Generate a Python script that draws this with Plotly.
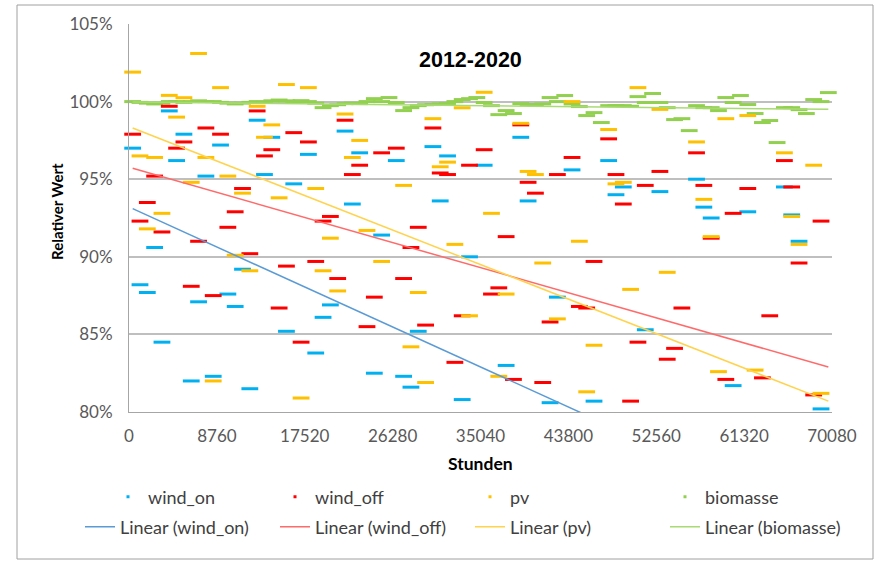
import plotly.graph_objects as go

HOURS_PER_MONTH = 730

# ---- data (month index 0..95 within 2012-2019 -> Stunden), values in % ----
on_month = [0, 5, 7, 6, 12, 10, 17, 19, 18, 22, 3, 1, 2, 9, 13, 14, 15, 21, 4, 8, 11, 16,
            24, 29, 31, 36, 41, 43, 48, 30, 42, 34, 46, 27, 26, 39, 25, 33, 37, 38, 45,
            53, 54, 60, 65, 66, 67, 72, 58, 70, 51, 57, 63,
            77, 78, 79, 84, 89, 90, 91, 82, 94]
on_value = [97.0, 99.4, 97.9, 96.2, 97.2, 95.2, 98.8, 97.7, 95.3, 94.7, 90.6, 88.2, 87.7, 87.1, 87.6, 86.8, 89.2, 85.2, 84.5, 82.0, 82.3, 81.5,
            96.6, 98.1, 96.7, 96.2, 97.1, 96.5, 95.9, 93.4, 93.6, 91.4, 90.0, 86.9, 86.1, 85.2, 83.8, 82.5, 82.3, 81.6, 80.8,
            97.7, 93.6, 95.6, 96.2, 94.0, 94.5, 94.2, 87.4, 85.3, 83.0, 80.6, 80.7,
            95.0, 93.2, 92.5, 92.9, 94.5, 92.7, 91.0, 81.7, 80.2]

off_month = [0, 5, 6, 7, 10, 12, 17, 19, 18, 22, 3, 15, 2, 14, 1, 4, 9, 13, 16, 21, 8, 11, 20, 23,
             24, 29, 31, 30, 34, 36, 41, 42, 43, 46, 48, 27, 26, 39, 38, 25, 28, 37, 33, 32, 40, 45, 44, 49,
             53, 54, 55, 58, 60, 65, 66, 67, 70, 72, 51, 63, 50, 61, 62, 57, 69, 74, 73, 52, 56, 68, 75,
             77, 78, 84, 89, 90, 82, 94, 79, 91, 87, 81, 86, 93]
off_value = [97.9, 99.7, 97.0, 97.4, 98.3, 97.9, 99.4, 96.9, 96.5, 98.0, 95.2, 94.4, 93.5, 92.9, 92.3, 91.6, 91.0, 91.9, 90.2, 89.4, 88.1, 87.5, 86.7, 84.5,
             97.4, 98.8, 95.9, 95.3, 96.7, 97.0, 98.3, 95.4, 95.3, 95.9, 96.9, 92.6, 92.3, 91.9, 90.6, 89.7, 88.6, 88.6, 87.4, 85.5, 85.6, 86.2, 83.2, 87.6,
             98.5, 94.8, 94.1, 95.3, 96.4, 97.6, 95.3, 93.4, 94.6, 95.5, 91.3, 89.7, 88.0, 86.8, 86.7, 85.8, 84.5, 84.1, 83.4, 82.1, 81.9, 80.7, 86.7,
             96.7, 94.6, 94.4, 96.2, 94.5, 92.8, 92.3, 91.2, 89.6, 86.2, 82.1, 82.2, 81.1]

pv_month = [0, 9, 5, 7, 12, 6, 1, 3, 10, 13, 8, 17, 19, 18, 21, 15, 20, 4, 2, 14, 16, 11, 23,
            24, 29, 31, 30, 41, 43, 42, 48, 45, 25, 37, 49, 32, 27, 44, 34, 26, 28, 39, 46, 38, 40,
            53, 54, 55, 60, 65, 66, 67, 69, 72, 61, 56, 73, 68, 51, 58, 63, 50, 62,
            77, 81, 84, 89, 93, 78, 90, 79, 91, 80, 85, 94]
pv_value = [101.9, 103.1, 100.4, 100.25, 100.9, 99.0, 96.5, 96.4, 96.4, 95.2, 94.8, 99.7, 98.5, 97.7, 101.1, 94.1, 93.8, 92.8, 91.8, 90.1, 89.1, 82.0, 80.9,
            100.9, 99.2, 97.5, 96.4, 98.9, 96.1, 95.8, 100.6, 99.6, 94.4, 94.6, 92.8, 91.7, 91.2, 90.8, 89.7, 89.1, 87.8, 87.7, 86.2, 84.2, 81.9,
            98.6, 95.5, 95.3, 100.0, 98.2, 94.7, 94.8, 100.9, 99.5, 91.0, 89.6, 89.0, 87.9, 87.6, 86.0, 84.3, 82.3, 81.3,
            97.4, 98.9, 99.1, 96.7, 95.9, 93.7, 92.6, 91.3, 90.8, 82.6, 82.7, 81.2]

bio_value = [100.0, 99.95, 99.9, 99.85, 99.9, 100.0, 100.0, 99.95, 100.0, 100.05, 100.0, 100.0,
             99.95, 99.9, 99.85, 99.9, 99.95, 100.0, 99.95, 100.05, 100.1, 100.05, 100.0, 100.06,
             100.0, 99.9, 99.61, 99.74, 99.8, 99.87, 99.9, 99.87, 100.0, 100.19, 100.0, 100.26,
             99.94, 99.42, 99.61, 99.74, 99.8, 99.81, 99.85, 99.87, 100.0, 100.13, 100.19, 100.26,
             99.94, 99.74, 99.16, 99.42, 99.23, 99.87, 99.8, 99.81, 99.85, 100.26, 100.0, 100.39,
             99.85, 99.68, 99.1, 99.29, 98.65, 99.74, 99.75, 99.74, 99.7, 100.32, 99.94, 100.52,
             99.94, 99.61, 98.84, 98.9, 98.13, 99.74, 99.61, 99.61, 99.42, 100.26, 99.94, 100.39,
             99.81, 99.23, 98.65, 98.78, 97.36, 99.61, 99.61, 99.48, 99.23, 100.13, 100.0, 100.58]
bio_month = list(range(len(bio_value)))

# linear trend lines (start / end values)
trend_x = [365, 69715]
trend_on = [93.1, 72.7]
trend_off = [95.7, 82.9]
trend_pv = [98.3, 80.7]
trend_bio = [99.97, 99.5]

x_ticks = [0, 8760, 17520, 26280, 35040, 43800, 52560, 61320, 70080]
y_ticks = [80, 85, 90, 95, 100, 105]

C_ON, C_OFF, C_PV, C_BIO = "#00B0F0", "#FF0000", "#FFC000", "#92D050"
T_ON, T_OFF, T_PV, T_BIO = "#5B9BD5", "#FF6B6B", "#FFD34D", "#A9DA74"

def hours(months):
    return [HOURS_PER_MONTH * m + HOURS_PER_MONTH / 2 for m in months]

fig = go.Figure()

def dash_trace(months, vals, color, name):
    fig.add_trace(go.Scatter(
        x=hours(months), y=vals, mode="markers", name=name, showlegend=False,
        cliponaxis=False,
        marker=dict(symbol="line-ew", size=12, color=color,
                    line=dict(color=color, width=3)),
    ))

dash_trace(bio_month, bio_value, C_BIO, "biomasse")
dash_trace(on_month, on_value, C_ON, "wind_on")
dash_trace(off_month, off_value, C_OFF, "wind_off")
dash_trace(pv_month, pv_value, C_PV, "pv")

for vals, color, name in [(trend_on, T_ON, "Linear (wind_on)"),
                          (trend_off, T_OFF, "Linear (wind_off)"),
                          (trend_pv, T_PV, "Linear (pv)"),
                          (trend_bio, T_BIO, "Linear (biomasse)")]:
    fig.add_trace(go.Scatter(x=trend_x, y=vals, mode="lines", name=name,
                             line=dict(color=color, width=1.5), legend="legend2"))

# legend entries for the marker series (small dots)
for color, name, lg in [(C_ON, "wind_on", "legend"), (C_OFF, "wind_off", "legend3"),
                        (C_PV, "pv", "legend3"), (C_BIO, "biomasse", "legend3")]:
    fig.add_trace(go.Scatter(x=[None], y=[None], mode="markers", name=name, legend=lg,
                             marker=dict(symbol="square", size=3, color=color)))

W, H = 879, 565
L, R, T, B = 129, 47, 24, 153
pw, ph = W - L - R, H - T - B

def px(xp):
    return (xp - L) / pw

def py(yp):
    return (H - B - yp) / ph

leg_font = dict(family="Lato, sans-serif", size=18, color="#404040")

fig.update_layout(
    width=W, height=H,
    margin=dict(l=L, r=R, t=T, b=B),
    paper_bgcolor="white", plot_bgcolor="white",
    font=dict(family="Lato, sans-serif", color="#595959"),
    xaxis=dict(range=[0, 70080], tickvals=x_ticks, ticktext=[str(v) for v in x_ticks],
               showgrid=False, zeroline=False, showline=True, linecolor="#A6A6A6", linewidth=1,
               ticks="", tickfont=dict(size=17, color="#595959"), ticklabelstandoff=9),
    yaxis=dict(range=[80, 105], tickvals=y_ticks, ticktext=[f"{v}%" for v in y_ticks],
               showgrid=True, gridcolor="#BFBFBF", gridwidth=1.5, zeroline=False,
               showline=True, linecolor="#A6A6A6", linewidth=1,
               ticks="", tickfont=dict(size=17, color="#595959"), ticklabelstandoff=12),
    legend=dict(orientation="h", x=px(108), y=py(497), xanchor="left", yanchor="middle",
                font=leg_font, bgcolor="rgba(0,0,0,0)"),
    legend3=dict(orientation="h", x=px(275), y=py(497), xanchor="left", yanchor="middle",
                 font=leg_font, bgcolor="rgba(0,0,0,0)", entrywidth=150, entrywidthmode="pixels"),
    legend2=dict(orientation="h", x=px(80), y=py(527), xanchor="left", yanchor="middle",
                 font=leg_font, bgcolor="rgba(0,0,0,0)", entrywidth=150, entrywidthmode="pixels"),
    annotations=[
        dict(text="<b>2012-2020</b>", x=px(470), y=py(60), xref="paper", yref="paper",
             xanchor="center", yanchor="middle", showarrow=False,
             font=dict(family="Liberation Sans, Arial", size=21.5, color="black")),
        dict(text="<b>Relativer Wert</b>", x=px(57), y=py(212), xref="paper", yref="paper",
             xanchor="center", yanchor="middle", showarrow=False, textangle=-90,
             font=dict(family="Lato, sans-serif", size=15, color="black")),
        dict(text="<b>Stunden</b>", x=px(480), y=py(463), xref="paper", yref="paper",
             xanchor="center", yanchor="middle", showarrow=False,
             font=dict(family="Lato, sans-serif", size=17.5, color="black")),
    ],
    shapes=[dict(type="rect", xref="paper", yref="paper",
                 x0=px(17), x1=px(873), y0=py(559), y1=py(5),
                 line=dict(color="#A0A0A0", width=1), fillcolor="rgba(0,0,0,0)", layer="below")],
)

fig.write_html("out.html", config={"displayModeBar": False},
               post_script="document.body.style.margin='0';document.body.style.overflow='hidden';")
